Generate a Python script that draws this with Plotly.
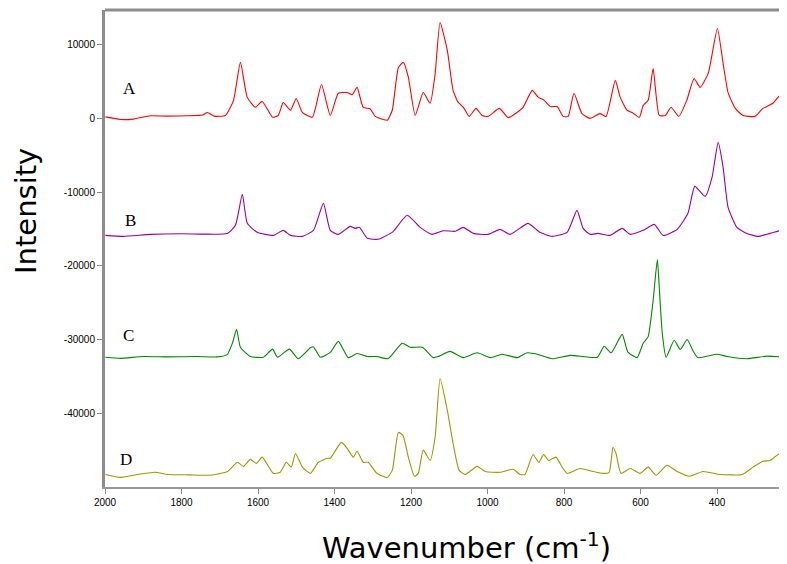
import plotly.graph_objects as go

# Spectrum A (wavenumber, intensity)
spec_A = [(1999, 200), (1960, -150), (1926, -100), (1881, 350), (1840, 300), (1790, 350),
          (1745, 450), (1732, 800), (1715, 300), (1685, 400), (1664, 2450), (1646, 7600),
          (1628, 2850), (1607, 1500), (1589, 2300), (1562, 150), (1547, 400), (1534, 2150),
          (1515, 1100), (1500, 2700), (1484, 800), (1458, 150), (1434, 4600), (1411, 400),
          (1390, 3400), (1367, 3500), (1354, 3200), (1341, 4200), (1325, 1500), (1307, 1300),
          (1294, 300), (1273, -150), (1262, -250), (1249, 1100), (1233, 6900), (1220, 7600),
          (1207, 5600), (1189, 400), (1168, 3500), (1150, 2050), (1137, 6000), (1124, 13000),
          (1105, 9200), (1090, 3800), (1077, 2200), (1063, 1500), (1048, 270), (1030, 1350),
          (1014, 400), (998, 270), (969, 1350), (946, 100), (923, 800), (907, 1500), (883, 3800),
          (867, 2850), (854, 2550), (836, 1600), (818, 1600), (802, 270), (789, 270), (774, 3400),
          (753, 650), (732, 0), (706, 650), (690, 270), (666, 5150), (653, 2850), (635, 1100),
          (619, 700), (603, 150), (593, 1750), (580, 2450), (567, 6750), (551, 400), (535, 400),
          (520, 1500), (500, 270), (479, 2450), (460, 5400), (444, 4200), (423, 6100), (399, 12200),
          (384, 7450), (371, 3500), (352, 1350), (332, 400), (301, 270), (280, 1350), (254, 2050),
          (235, 3100), (217, 1900)]

spec_B = [(1999, -15870), (1952, -16000), (1881, -15730), (1800, -15650), (1740, -15700),
          (1680, -15600), (1659, -14500), (1641, -10300), (1628, -14240), (1602, -15460),
          (1560, -15870), (1534, -15190), (1515, -15870), (1484, -16000), (1455, -15190),
          (1429, -11530), (1411, -15190), (1390, -15730), (1359, -14650), (1346, -14920),
          (1335, -14780), (1314, -16270), (1286, -16400), (1254, -15600), (1246, -15320),
          (1210, -13150), (1176, -14780), (1145, -15730), (1116, -15250), (1084, -15320),
          (1064, -14780), (1037, -15600), (998, -15730), (967, -15050), (941, -15730),
          (894, -14240), (863, -15460), (831, -16000), (792, -15460), (766, -12480),
          (750, -14920), (732, -15730), (711, -15600), (680, -15870), (648, -14920),
          (627, -15730), (593, -15190), (564, -14380), (541, -15870), (504, -15050),
          (476, -12880), (458, -9220), (431, -10580), (413, -8000), (397, -3250), (384, -6640),
          (371, -12070), (348, -14780), (322, -15600), (293, -16000), (261, -15600),
          (230, -15190), (217, -15460)]

spec_C = [(1999, -32400), (1960, -32550), (1900, -32300), (1840, -32350), (1760, -32300),
          (1706, -32350), (1680, -32000), (1667, -30500), (1656, -28600), (1646, -31050),
          (1620, -32300), (1586, -32400), (1562, -31300), (1549, -32400), (1518, -31300),
          (1495, -32600), (1463, -31100), (1455, -31000), (1437, -32400), (1411, -31750),
          (1390, -30250), (1364, -32450), (1341, -31900), (1314, -32300), (1289, -32300),
          (1260, -32600), (1223, -30500), (1202, -31050), (1170, -31050), (1142, -32450),
          (1129, -32300), (1098, -31600), (1064, -32450), (1027, -31800), (993, -32450),
          (962, -32000), (922, -32450), (896, -31800), (870, -32000), (831, -32600),
          (784, -32150), (713, -32400), (695, -30900), (677, -31800), (648, -29300),
          (633, -31700), (609, -32450), (593, -30500), (580, -29600), (567, -24700),
          (556, -19150), (551, -22900), (543, -29200), (533, -32400), (512, -30100),
          (496, -31350), (478, -30000), (463, -31500), (450, -32450), (400, -32000),
          (374, -32300), (322, -32600), (269, -32250), (217, -32400)]

spec_D = [(1999, -48300), (1960, -48700), (1926, -48400), (1868, -48000), (1837, -48300),
          (1780, -48350), (1724, -48400), (1680, -47900), (1654, -46650), (1638, -47200),
          (1620, -46250), (1604, -46800), (1589, -45950), (1560, -48150), (1542, -48000),
          (1526, -46650), (1513, -47300), (1502, -45450), (1484, -47300), (1463, -48150),
          (1442, -46650), (1419, -46100), (1411, -46100), (1382, -43950), (1367, -44750),
          (1351, -45950), (1341, -45150), (1325, -46650), (1312, -46650), (1289, -48150),
          (1262, -48700), (1249, -47750), (1233, -42600), (1221, -43000), (1207, -45950),
          (1191, -48550), (1181, -48150), (1168, -45000), (1150, -46400), (1137, -43250),
          (1124, -35300), (1105, -39600), (1090, -44100), (1074, -47750), (1058, -48300),
          (1027, -47200), (1006, -47900), (967, -48000), (933, -47600), (915, -48300),
          (902, -48300), (881, -45600), (866, -46650), (853, -45600), (840, -46400),
          (821, -45950), (805, -47300), (792, -48150), (758, -47500), (724, -47900),
          (698, -48150), (682, -48000), (672, -44600), (664, -45450), (651, -48150),
          (627, -47500), (601, -48150), (580, -47300), (559, -48400), (531, -47050),
          (504, -47900), (471, -48550), (437, -47900), (392, -48300), (334, -48300),
          (306, -47300), (280, -46500), (261, -46400), (235, -45450), (217, -46800)]

series_names = ["A", "B", "C", "D"]
series_colors = ["#ff0000", "#990099", "#008800", "#999900"]
label_pos = [(1935, 4070), (1933, -13900), (1939, -29500), (1945, -46250)]

x_ticks = [2000, 1800, 1600, 1400, 1200, 1000, 800, 600, 400]
y_ticks = [10000, 0, -10000, -20000, -30000, -40000]
y_ticklabels = ["10000", "0", "-10000", "-20000", "-30000", "-40000"]

fig = go.Figure()
for name, spec, color in zip(series_names, [spec_A, spec_B, spec_C, spec_D], series_colors):
    xs = [p[0] for p in spec]
    ys = [p[1] for p in spec]
    fig.add_trace(go.Scatter(x=xs, y=ys, mode="lines", name=name,
                             line=dict(color=color, width=1.1, shape="spline", smoothing=0.5),
                             showlegend=False))

for name, (lx, ly) in zip(series_names, label_pos):
    fig.add_annotation(x=lx, y=ly, text=name, showarrow=False, xanchor="center", yanchor="middle",
                       font=dict(family="Liberation Serif", size=17, color="black"))

fig.add_annotation(xref="paper", yref="paper", x=(466 - 105) / 682, y=-(546 - 487) / 477,
                   text="Wavenumber (cm<sup>-1</sup>)", showarrow=False,
                   xanchor="center", yanchor="middle",
                   font=dict(family="DejaVu Sans", size=29, color="black"))
fig.add_annotation(xref="paper", yref="paper", x=-(105 - 26) / 682, y=(487 - 211) / 477,
                   text="Intensity", textangle=-90, showarrow=False,
                   xanchor="center", yanchor="middle",
                   font=dict(family="DejaVu Sans", size=29, color="black"))

fig.add_shape(type="line", xref="paper", yref="paper", x0=0, x1=1, y0=1, y1=1,
              line=dict(color="#8c8c8c", width=3))

# the page body has an 8px margin; margins below compensate so the plot area
# lands at page pixels x 105..787, y 10..487
fig.update_layout(
    width=787, height=564,
    margin=dict(l=97, r=8, t=2, b=85, autoexpand=False),
    plot_bgcolor="white", paper_bgcolor="white",
    xaxis=dict(range=[2000, 217], tickvals=x_ticks, ticktext=[str(t) for t in x_ticks],
               showgrid=False, zeroline=False, showline=True, linecolor="#999999", linewidth=2,
               ticks="outside", ticklen=5, tickcolor="#888888",
               tickfont=dict(family="Liberation Sans", size=10, color="black")),
    yaxis=dict(range=[-50000, 14700], tickvals=y_ticks, ticktext=y_ticklabels,
               showgrid=False, zeroline=False, showline=True, linecolor="#8c8c8c", linewidth=3,
               ticks="outside", ticklen=5, tickcolor="#888888",
               tickfont=dict(family="Liberation Sans", size=10, color="black")),
)

fig.write_html("out.html")
